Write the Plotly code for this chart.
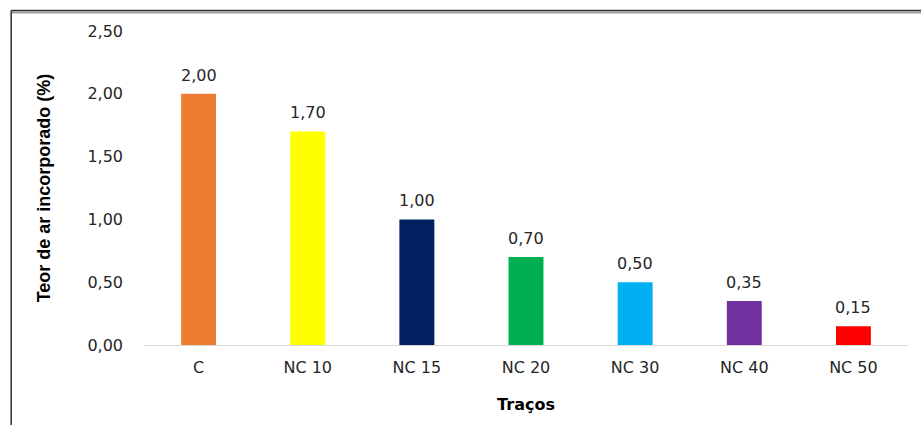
import plotly.graph_objects as go

categories = ["C", "NC 10", "NC 15", "NC 20", "NC 30", "NC 40", "NC 50"]
values = [2.00, 1.70, 1.00, 0.70, 0.50, 0.35, 0.15]
colors = ["#ED7D31", "#FFFF00", "#002060", "#00B050", "#00B0F0", "#7030A0", "#FF0000"]
y_ticks = [0, 0.5, 1.0, 1.5, 2.0, 2.5]

W, H = 921, 425
L, R, T, B = 143.5, 12.5, 31, 80
pw = W - L - R
ph = H - T - B

def px(x):
    return (x - L) / pw

def py(y):
    return (H - B - y) / ph

FONT = "DejaVu Sans"

fig = go.Figure()
fig.add_trace(go.Bar(
    x=categories, y=values, marker=dict(color=colors, line=dict(width=0)),
    width=0.32,
))

annotations = [
    dict(x=c, y=v, xref="x", yref="y", text=f"{v:.2f}".replace(".", ","),
         showarrow=False, yanchor="bottom", yshift=7,
         font=dict(family=FONT, size=16, color="#262626"))
    for c, v in zip(categories, values)
]

fig.update_layout(
    width=W, height=H,
    margin=dict(l=L, r=R, t=T, b=B, pad=0),
    paper_bgcolor="white", plot_bgcolor="white",
    separators=",.",
    showlegend=False,
    annotations=annotations,
    xaxis=dict(
        showline=True, linecolor="#D9D9D9", linewidth=1,
        showgrid=False, ticks="", ticklabelstandoff=8,
        tickfont=dict(family=FONT, size=16, color="#262626"),
        title=dict(text="<b>Traços</b>", font=dict(family=FONT, size=16, color="#000000"), standoff=22),
    ),
    yaxis=dict(
        range=[0, 2.5], tickvals=y_ticks, tickformat=".2f",
        showgrid=False, zeroline=False, showline=False, ticks="",
        ticklabelstandoff=20,
        tickfont=dict(family=FONT, size=16, color="#262626"),
        title=dict(text="<b>Teor de ar incorporado (%)</b>",
                   font=dict(family="Arial Narrow, sans-serif", size=18, color="#000000"),
                   standoff=32),
    ),
    shapes=[
        dict(type="line", xref="paper", yref="paper", x0=px(10.5), x1=px(930), y0=py(12.5), y1=py(12.5),
             line=dict(color="#A0A0A0", width=2)),
        dict(type="line", xref="paper", yref="paper", x0=px(10.5), x1=px(930), y0=py(10.5), y1=py(10.5),
             line=dict(color="#303030", width=1.5)),
        dict(type="line", xref="paper", yref="paper", x0=px(10.5), x1=px(10.5), y0=py(10.5), y1=py(440),
             line=dict(color="#303030", width=1.5)),
    ],
)

fig.write_html("out.html")
